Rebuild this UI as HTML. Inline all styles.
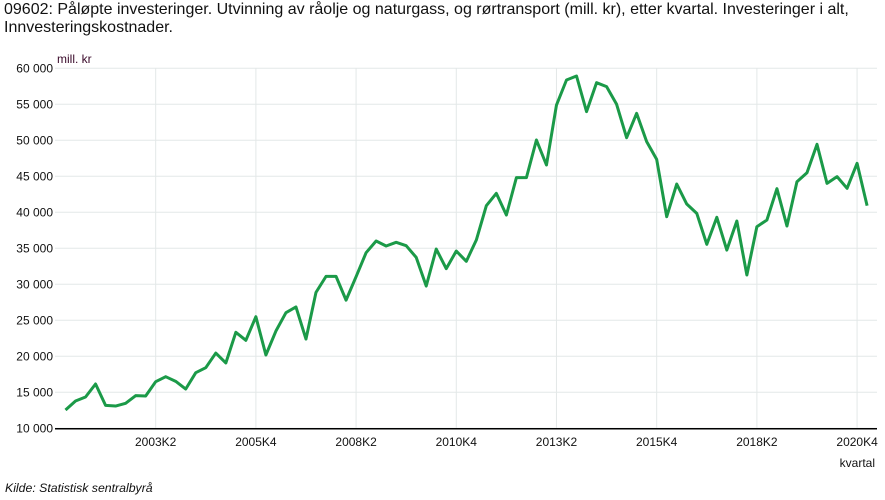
<!DOCTYPE html>
<html><head><meta charset="utf-8"><style>
body{margin:0;background:#fff;font-family:"Liberation Sans",sans-serif;}
#wrap{position:relative;width:885px;height:500px;overflow:hidden;}
#title{position:absolute;left:4px;top:1px;font-size:16px;line-height:18px;color:#111;width:884px;white-space:nowrap;}
svg{position:absolute;left:0;top:0;}
</style></head><body>
<div id="wrap">
<div id="title">09602: Påløpte investeringer. Utvinning av råolje og naturgass, og rørtransport (mill. kr), etter kvartal. Investeringer i alt,<br>Innvesteringskostnader.</div>
<svg id="chart" width="885" height="500"></svg>
</div>
<script>
const values=[12540,13790,14345,16150,13190,13095,13465,14530,14484,16475,17170,16520,15456,17725,18420,20450,19070,23330,22215,25500,20180,23510,26060,26850,22400,28880,31100,31100,27800,31060,34390,36010,35320,35830,35360,33740,29760,34900,32170,34620,33190,36150,40920,42630,39620,44810,44810,50040,46570,54900,58375,58930,53980,58000,57450,55000,50365,53745,49810,47355,39390,43930,41150,39855,35550,39300,34760,38790,31290,38000,38930,43280,38095,44250,45500,49440,44020,44950,43330,46800,40920];
const yTicks=[10000,15000,20000,25000,30000,35000,40000,45000,50000,55000,60000];
const xTickIdx=[9,19,29,39,49,59,69,79];
const xTickLabels=["2003K2","2005K4","2008K2","2010K4","2013K2","2015K4","2018K2","2020K4"];
const NS="http://www.w3.org/2000/svg";
const svg=document.getElementById('chart');
const L=55,R=877,T=68.3,B=428.3,yMin=10000,yMax=60000;
function x(i){return 65.5+i*10.02;}
function y(v){return B-(v-yMin)/(yMax-yMin)*(B-T);}
function mk(t,a){const e=document.createElementNS(NS,t);for(const k in a)e.setAttribute(k,a[k]);svg.appendChild(e);return e;}
yTicks.forEach(v=>{
 const g=mk('line',{x1:L,x2:R,y1:y(v),y2:y(v),stroke:'#e3e8e8','stroke-width':1});
 
 
 const t=mk('text',{x:53,y:y(v)+4,'text-anchor':'end','font-size':12,fill:'#111','font-family':'Liberation Sans, sans-serif'});
 t.textContent=v.toLocaleString('en').replace(/,/g,' ');
 
 
});
xTickIdx.forEach((i,k)=>{
 const g=mk('line',{x1:x(i),x2:x(i),y1:T,y2:B,stroke:'#e3e8e8','stroke-width':1});
 
 
 const t=mk('text',{x:x(i),y:446,'text-anchor':'middle','font-size':12,fill:'#111','font-family':'Liberation Sans, sans-serif'});
 t.textContent=xTickLabels[k];
 
 
});
const ax=mk('line',{x1:L,x2:R,y1:B+0.5,y2:B+0.5,stroke:'#000','stroke-width':1.5});


const p=mk('polyline',{points:values.map((v,i)=>x(i)+','+y(v)).join(' '),fill:'none',stroke:'#1b9a48','stroke-width':3,'stroke-linejoin':'round'});


const u=mk('text',{x:57,y:63,'font-size':12,fill:'#3a0a2a','font-family':'Liberation Sans, sans-serif'});
u.textContent='mill. kr';


const xt=mk('text',{x:875,y:467,'text-anchor':'end','font-size':12,fill:'#111','font-family':'Liberation Sans, sans-serif'});
xt.textContent='kvartal';


const s=mk('text',{x:5,y:492,'font-size':12.3,'font-style':'italic',fill:'#111','font-family':'Liberation Sans, sans-serif'});
s.textContent='Kilde:  Statistisk sentralbyrå';


</script>
</body></html>
